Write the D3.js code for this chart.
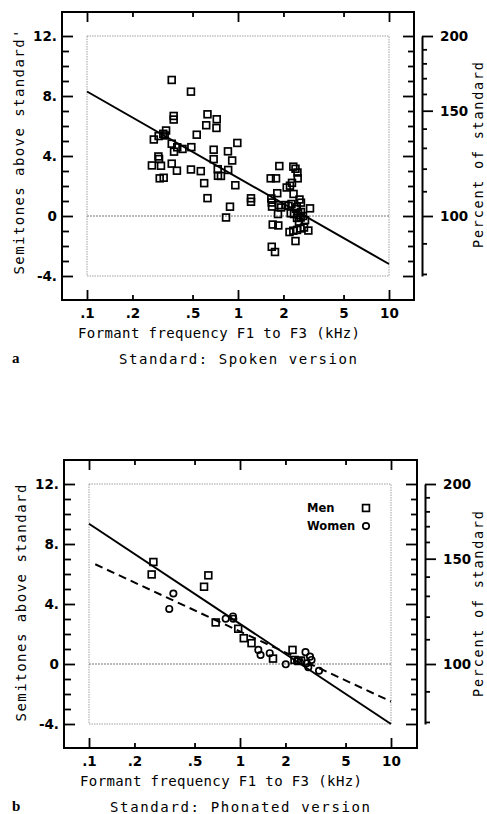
<!DOCTYPE html>
<html>
<head>
<meta charset="utf-8">
<script src="https://cdn.jsdelivr.net/npm/d3@7"></script>
<style>
  html, body { margin: 0; padding: 0; background: #fff; }
  svg { display: block; }
</style>
</head>
<body>
<svg id="chart" width="487" height="814"></svg>
<script>
// ---- Axis tick values and labels ----
const freqTicks = [0.1, 0.2, 0.5, 1, 2, 5, 10];
const freqTickLabels = [".1", ".2", ".5", "1", "2", "5", "10"];
const freqMajor = [0.1, 1, 10];
const semitoneTicks = d3.range(-4, 13);
const semitoneLabelled = [-4, 0, 4, 8, 12];
const semitoneTickLabels = ["-4.", "0", "4.", "8.", "12."];
const percentTicks = [80, 90, 100, 110, 120, 130, 140, 150, 160, 170, 180, 190, 200];
const percentLabelled = [100, 150, 200];

// ---- Panel a: spoken standard (formant frequency in kHz, semitones) ----
const spokenFreq = [
  0.364, 0.488, 0.375, 0.375, 0.628, 0.723, 0.616, 0.720, 0.334, 0.320,
  0.327, 0.298, 0.277, 0.533, 0.364, 0.396, 0.377, 0.429, 0.491, 0.990,
  0.690, 0.858, 0.297, 0.300, 0.690, 0.915, 0.269, 0.309, 0.364, 0.394,
  0.488, 0.567, 0.734, 0.861, 0.737, 0.771, 0.303, 0.322, 0.597, 0.960,
  0.628, 0.885, 0.833, 1.219, 1.219, 1.878, 2.325, 2.403, 2.477, 2.485,
  1.646, 1.786, 2.278, 2.208, 2.101, 2.333, 1.820, 2.555, 2.612, 1.662,
  1.673, 1.680, 1.869, 1.928, 2.064, 2.160, 2.260, 2.998, 1.840, 2.234,
  2.421, 2.612, 2.460, 2.694, 2.535, 2.780, 2.348, 1.698, 1.849, 2.193,
  2.324, 2.460, 2.594, 2.736, 2.924, 2.403, 1.673, 1.758, 2.500, 2.600,
  2.450
];
const spokenSemi = [
  9.07, 8.29, 6.67, 6.43, 6.78, 6.45, 6.05, 5.87, 5.70, 5.48,
  5.37, 5.33, 5.10, 5.42, 4.82, 4.58, 4.29, 4.47, 4.59, 4.87,
  4.42, 4.31, 3.97, 3.80, 3.79, 3.70, 3.37, 3.35, 3.49, 3.02,
  3.10, 2.99, 3.12, 3.07, 2.68, 2.67, 2.51, 2.55, 2.19, 2.05,
  1.19, 0.62, -0.10, 1.18, 0.95, 3.33, 3.29, 3.15, 2.90, 2.51,
  2.51, 2.51, 2.21, 2.02, 1.90, 1.47, 1.52, 1.10, 0.89, 1.17,
  0.90, 0.63, 0.72, 0.57, 0.73, 0.67, 0.80, 0.51, 0.13, 0.18,
  0.47, 0.27, -0.13, 0.00, -0.40, -0.27, 0.13, -0.57, -0.63, -1.07,
  -0.98, -0.93, -0.83, -0.77, -0.97, -1.67, -2.05, -2.40, 0.20, -0.10,
  0.60
];
const spokenFitFreq = [0.1, 10];
const spokenFitSemi = [8.3, -3.2];

// ---- Panel b: phonated standard ----
const menFreq = [0.267, 0.260, 0.617, 0.578, 0.690, 0.973, 1.059, 1.192, 1.654, 2.227, 2.296, 2.439, 2.535];
const menSemi = [6.80, 5.97, 5.91, 5.15, 2.77, 2.35, 1.72, 1.39, 0.36, 0.94, 0.27, 0.20, 0.23];
const womenFreq = [0.362, 0.340, 0.804, 0.899, 0.903, 1.322, 1.368, 1.574, 2.010, 2.715, 2.909, 2.977, 2.766, 2.834, 3.336, 2.385];
const womenSemi = [4.70, 3.67, 3.02, 3.17, 3.02, 0.94, 0.60, 0.72, -0.02, 0.79, 0.49, 0.27, 0.05, -0.22, -0.45, 0.20];
const solidFitFreq = [0.1, 10];
const solidFitSemi = [9.35, -4.0];
const dashedFitFreq = [0.11, 10];
const dashedFitSemi = [6.65, -2.5];

const svg = d3.select("#chart");
svg.append("rect").attr("width", 487).attr("height", 814).attr("fill", "#fff");

const MONO = "'DejaVu Sans Mono', 'Liberation Mono', monospace";
const SANS = "'DejaVu Sans', 'Liberation Sans', sans-serif";

function drawPanel(cfg) {
  const g = svg.append("g");
  const x = d3.scaleLog().domain([0.1, 10]).range([cfg.x0, cfg.x1]);
  const y = d3.scaleLinear().domain([-4, 12]).range([cfg.yBot, cfg.yTop]);
  // percent of standard: 12 semitones per doubling
  const yPct = d3.scaleLog().domain([100 * Math.pow(2, -4 / 12), 200]).range([cfg.yBot, cfg.yTop]);

  const fl = cfg.x0 - 25, fr = cfg.x1 + 25 + cfg.frExtra;
  const ft = cfg.yTop - 24, fb = cfg.yBot + 24;

  // inner dotted box and zero reference
  g.append("rect")
    .attr("x", x(0.1)).attr("y", y(12))
    .attr("width", x(10) - x(0.1)).attr("height", y(-4) - y(12))
    .attr("fill", "none").attr("stroke", "#888").attr("stroke-width", 0.8)
    .attr("stroke-dasharray", "1.5,1");
  g.append("line")
    .attr("x1", x(0.1)).attr("x2", x(10)).attr("y1", y(0)).attr("y2", y(0))
    .attr("stroke", "#666").attr("stroke-width", 0.9).attr("stroke-dasharray", "2,1");

  // axes on the frame, ticks pointing inward
  const styleAxis = (sel) => {
    sel.select(".domain").remove();
    sel.selectAll(".tick line").attr("stroke", "#000").attr("stroke-width", 1.8);
    sel.selectAll(".tick text").attr("font-family", SANS).attr("font-weight", "bold")
      .attr("font-size", 13.5).attr("fill", "#000");
  };

  const bottom = g.append("g").attr("transform", `translate(0,${fb})`)
    .call(d3.axisBottom(x).tickValues(freqTicks)
      .tickFormat((d, i) => freqTickLabels[i]).tickSizeInner(-10).tickSizeOuter(0).tickPadding(8));
  styleAxis(bottom);
  bottom.selectAll(".tick line").attr("y2", d => freqMajor.includes(d) ? -10 : -5);

  const top = g.append("g").attr("transform", `translate(0,${ft})`)
    .call(d3.axisTop(x).tickValues(freqTicks).tickFormat("").tickSizeInner(-10).tickSizeOuter(0));
  styleAxis(top);
  top.selectAll(".tick line").attr("y2", d => freqMajor.includes(d) ? 10 : 5);

  const left = g.append("g").attr("transform", `translate(${fl},0)`)
    .call(d3.axisLeft(y).tickValues(semitoneTicks)
      .tickFormat(d => { const k = semitoneLabelled.indexOf(d); return k >= 0 ? semitoneTickLabels[k] : ""; })
      .tickSizeInner(-7).tickSizeOuter(0).tickPadding(5));
  styleAxis(left);
  left.selectAll(".tick line").attr("x2", d => semitoneLabelled.includes(d) ? 11 : 7);

  const right = g.append("g").attr("transform", `translate(${fr},0)`)
    .call(d3.axisRight(y).tickValues(semitoneTicks).tickFormat("").tickSizeInner(-7).tickSizeOuter(0));
  styleAxis(right);
  right.selectAll(".tick line").attr("x2", d => semitoneLabelled.includes(d) ? -11 : -6);

  // frame
  g.append("rect").attr("x", fl).attr("y", ft).attr("width", fr - fl).attr("height", fb - ft)
    .attr("fill", "none").attr("stroke", "#000").attr("stroke-width", 2);

  // percent-of-standard axis
  const pct = g.append("g").attr("transform", `translate(${fr + 8},0)`)
    .call(d3.axisRight(yPct).tickValues(percentTicks)
      .tickFormat(d => percentLabelled.includes(d) ? String(d) : "")
      .tickSizeInner(11).tickSizeOuter(0).tickPadding(7));
  pct.select(".domain").attr("stroke", "#000").attr("stroke-width", 2);
  pct.selectAll(".tick line").attr("stroke", "#000").attr("stroke-width", 1.8)
    .attr("x2", d => percentLabelled.includes(d) ? 11 : 5);
  pct.selectAll(".tick text").attr("font-family", SANS).attr("font-weight", "bold")
    .attr("font-size", 13.5).attr("fill", "#000");

  // regression lines
  const line = d3.line().x(d => x(d[0])).y(d => y(d[1]));
  cfg.fits.forEach(f => {
    g.append("path").datum(f.freq.map((v, i) => [v, f.semi[i]]))
      .attr("d", line).attr("fill", "none").attr("stroke", "#000")
      .attr("stroke-width", 2).attr("stroke-dasharray", f.dash || null);
  });

  // data points
  cfg.series.forEach(s => {
    const pts = s.freq.map((v, i) => [v, s.semi[i]]);
    if (s.shape === "square") {
      g.append("g").selectAll("rect").data(pts).join("rect")
        .attr("x", d => x(d[0]) - 3.4).attr("y", d => y(d[1]) - 3.4)
        .attr("width", 6.8).attr("height", 6.8)
        .attr("fill", "none").attr("stroke", "#000").attr("stroke-width", 1.7);
    } else {
      g.append("g").selectAll("circle").data(pts).join("circle")
        .attr("cx", d => x(d[0])).attr("cy", d => y(d[1])).attr("r", 3.2)
        .attr("fill", "none").attr("stroke", "#000").attr("stroke-width", 1.7);
    }
  });

  // titles
  g.append("text").attr("x", cfg.xTitleX).attr("y", fb + 38)
    .attr("text-anchor", "middle").attr("font-family", MONO).attr("font-size", 14)
    .attr("textLength", 282).attr("lengthAdjust", "spacing")
    .text("Formant frequency F1 to F3 (kHz)");
  g.append("text").attr("x", cfg.subX).attr("y", fb + 64)
    .attr("text-anchor", "middle").attr("font-family", MONO).attr("font-size", 14)
    .attr("textLength", cfg.subLen).attr("lengthAdjust", "spacing")
    .text(cfg.subtitle);
  g.append("text").attr("x", 12).attr("y", cfg.letterY)
    .attr("font-family", "'Liberation Serif', 'DejaVu Serif', serif").attr("font-weight", "bold")
    .attr("font-size", 15).text(cfg.letter);

  g.append("text")
    .attr("transform", `translate(${cfg.x0 - 68},${cfg.yLabelC}) rotate(-90)`)
    .attr("text-anchor", "middle").attr("dy", "0.35em")
    .attr("font-family", MONO).attr("font-size", 14)
    .attr("textLength", cfg.yLabelLen).attr("lengthAdjust", "spacing")
    .text(cfg.yLabel);
  g.append("text")
    .attr("transform", `translate(478,${cfg.pctLabelC}) rotate(-90)`)
    .attr("text-anchor", "middle").attr("dy", "0.35em")
    .attr("font-family", MONO).attr("font-size", 13.5)
    .attr("textLength", 186).attr("lengthAdjust", "spacing")
    .text("Percent of standard");

  if (cfg.legend) {
    const lg = g.append("g");
    cfg.legend.forEach((item, i) => {
      const ly = cfg.legendY + i * 18;
      lg.append("text").attr("x", 307).attr("y", ly).attr("dy", "0.35em")
        .attr("font-family", SANS).attr("font-weight", "bold").attr("font-size", 11.5)
        .text(item.label);
      if (item.shape === "square") {
        lg.append("rect").attr("x", 366 - 3.4).attr("y", ly - 3.4).attr("width", 6.8).attr("height", 6.8)
          .attr("fill", "none").attr("stroke", "#000").attr("stroke-width", 1.7);
      } else {
        lg.append("circle").attr("cx", 366).attr("cy", ly).attr("r", 3.2)
          .attr("fill", "none").attr("stroke", "#000").attr("stroke-width", 1.7);
      }
    });
  }
}

drawPanel({
  x0: 87, x1: 389, yTop: 36, yBot: 276, frExtra: 0,
  fits: [{ freq: spokenFitFreq, semi: spokenFitSemi }],
  series: [{ freq: spokenFreq, semi: spokenSemi, shape: "square" }],
  xTitleX: 219, subX: 238, subLen: 238, subtitle: "Standard: Spoken version",
  letter: "a", letterY: 363,
  yLabel: "Semitones above standard'", yLabelC: 152, yLabelLen: 245,
  pctLabelC: 155
});

drawPanel({
  x0: 89, x1: 391, yTop: 484, yBot: 724, frExtra: 1,
  fits: [{ freq: solidFitFreq, semi: solidFitSemi },
         { freq: dashedFitFreq, semi: dashedFitSemi, dash: "8,5" }],
  series: [{ freq: menFreq, semi: menSemi, shape: "square" },
           { freq: womenFreq, semi: womenSemi, shape: "circle" }],
  xTitleX: 221, subX: 240, subLen: 260, subtitle: "Standard: Phonated version",
  letter: "b", letterY: 811,
  yLabel: "Semitones above standard", yLabelC: 603, yLabelLen: 237,
  pctLabelC: 604,
  legend: [{ label: "Men", shape: "square" }, { label: "Women", shape: "circle" }],
  legendY: 508
});
</script>
</body>
</html>
